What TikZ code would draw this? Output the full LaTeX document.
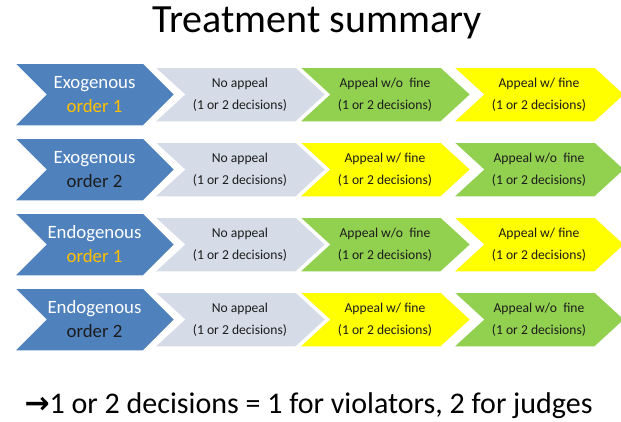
\documentclass[tikz,border=0pt]{standalone}
\usepackage{fontspec}
\setmainfont{Carlito}
\newfontfamily\arrowfont{DejaVu Sans}
\usepackage{tikz}
\usetikzlibrary{shapes.symbols}
\usepackage{xcolor}
\definecolor{chevblue}{HTML}{4F81BD}
\definecolor{chevgray}{HTML}{D5DCE8}
\definecolor{chevgreen}{HTML}{92D050}
\definecolor{chevyellow}{HTML}{FFFF00}
\definecolor{ordergold}{HTML}{FFC000}
\definecolor{textdark}{HTML}{1C1C1C}
\tikzset{
  chev/.style={signal,signal from=west,signal to=east,draw=white,line width=1.5pt,inner sep=0pt,align=center},
  lead/.style={chev,fill=chevblue,minimum width=161pt,minimum height=63pt,signal pointer angle=90,text=white,font=\fontsize{18.8}{24}\selectfont},
  stage/.style={chev,minimum width=172pt,minimum height=55pt,signal pointer angle=85,text=textdark,font=\fontsize{13.6}{22}\selectfont},
  noappeal/.style={stage,fill=chevgray},
  nofine/.style={stage,fill=chevgreen},
  withfine/.style={stage,fill=chevyellow}
}
\begin{document}
\begin{tikzpicture}[x=1pt,y=-1pt]
    \path[use as bounding box,fill=white] (0,0) rectangle (621,421);
    \node[anchor=base,font=\fontsize{40}{46}\selectfont] (title) at (317,32) {Treatment summary};
    \node[lead] (exo1) at (94.5,94.5) {Exogenous\\\textcolor{ordergold}{order 1}};
    \node[noappeal] (exo1a) at (240,94.5) {No appeal\\(1 or 2 decisions)};
    \node[nofine] (exo1b) at (385,94.5) {Appeal w/o\ \ fine\\(1 or 2 decisions)};
    \node[withfine] (exo1c) at (539,94.5) {Appeal w/ fine\\(1 or 2 decisions)};
    \node[lead] (exo2) at (94.5,169.5) {Exogenous\\\textcolor{textdark}{order 2}};
    \node[noappeal] (exo2a) at (240,169.5) {No appeal\\(1 or 2 decisions)};
    \node[withfine] (exo2b) at (385,169.5) {Appeal w/ fine\\(1 or 2 decisions)};
    \node[nofine] (exo2c) at (539,169.5) {Appeal w/o\ \ fine\\(1 or 2 decisions)};
    \node[lead] (endo1) at (94.5,244.5) {Endogenous\\\textcolor{ordergold}{order 1}};
    \node[noappeal] (endo1a) at (240,244.5) {No appeal\\(1 or 2 decisions)};
    \node[nofine] (endo1b) at (385,244.5) {Appeal w/o\ \ fine\\(1 or 2 decisions)};
    \node[withfine] (endo1c) at (539,244.5) {Appeal w/ fine\\(1 or 2 decisions)};
    \node[lead] (endo2) at (94.5,319.5) {Endogenous\\\textcolor{textdark}{order 2}};
    \node[noappeal] (endo2a) at (240,319.5) {No appeal\\(1 or 2 decisions)};
    \node[withfine] (endo2b) at (385,319.5) {Appeal w/ fine\\(1 or 2 decisions)};
    \node[nofine] (endo2c) at (539,319.5) {Appeal w/o\ \ fine\\(1 or 2 decisions)};
    \node[anchor=base west,font=\fontsize{30}{36}\selectfont] (note) at (21,413) {{\arrowfont\bfseries →}1 or 2 decisions = 1 for violators, 2 for judges};
  \end{tikzpicture}
\end{document}
